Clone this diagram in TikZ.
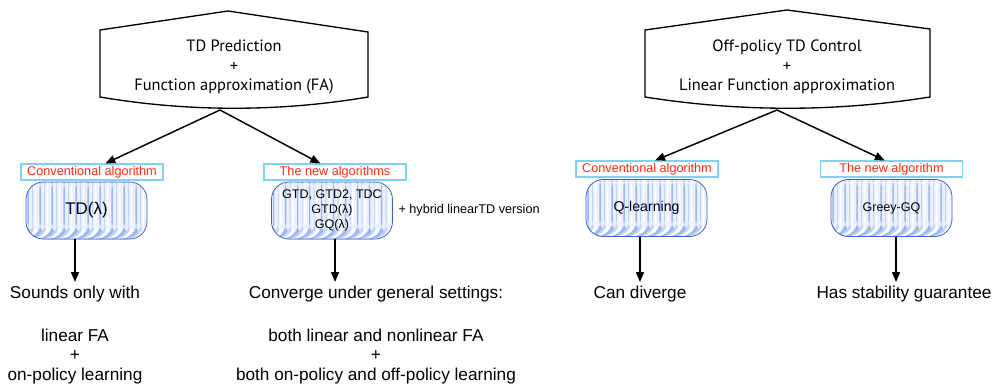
\documentclass[tikz,border=0pt]{standalone}
\usepackage{fontspec}
\setmainfont{Liberation Sans}
\newfontfamily\gillfont{PT Sans}
\usetikzlibrary{positioning,arrows.meta}

\definecolor{boxblue}{RGB}{70,95,200}
\definecolor{stripeblue}{RGB}{155,183,247}
\definecolor{stripelight}{RGB}{236,241,254}
\definecolor{lblue}{RGB}{125,210,250}
\definecolor{lred}{RGB}{255,40,20}

\tikzset{
  topshape/.style={line width=1pt},
  toptext/.style={align=center, inner sep=0pt, font=\gillfont\fontsize{12.3}{14.6}\selectfont},
  redlabel/.style={draw=lblue, fill=white, text=lred, line width=0.8pt, inner sep=0pt,
    minimum width=106.5pt, minimum height=12pt, font=\fontsize{9.5}{11}\selectfont},
  algbox/.style={draw=boxblue, fill=white, line width=0.6pt, rounded corners=13pt,
    minimum width=90.75pt, minimum height=42.75pt, inner sep=0pt, align=center,
    path picture={
      \fill[stripelight] (path picture bounding box.south west) rectangle (path picture bounding box.north east);
      \foreach \k in {0,...,10}{
        \fill[stripeblue] ([xshift=\k*9pt+1pt]path picture bounding box.south west) rectangle ++(1.2pt,50pt);
        \fill[stripeblue!60] ([xshift=\k*9pt+4.5pt]path picture bounding box.south west) rectangle ++(0.8pt,50pt);
        \fill[white] ([xshift=\k*9pt+6.5pt]path picture bounding box.south west) rectangle ++(1.2pt,50pt);
      }
    }},
  result/.style={align=center, inner sep=0pt, anchor=north, font=\fontsize{12.9}{14.5}\selectfont},
  arr/.style={-{Triangle[length=7.5pt,width=6pt]}, line width=1.1pt}
}

\begin{document}
\begin{tikzpicture}[x=0.75pt,y=-0.75pt]
  \useasboundingbox (0,0) rectangle (997,389);

  % left half: prediction
  \draw[topshape] (100,97) -- (100,30) -- (228,11) -- (368,32) -- (368,97)
    .. controls (280,112) and (188,112) .. cycle;
  \node[toptext] (predict) at (234,67) {TD Prediction\\+\\Function approximation (FA)};
  \coordinate (predbot) at (220,110);

  \node[redlabel] (conv1) at (92,172) {Conventional algorithm};
  \node[redlabel] (new1) at (335,172) {The new algorithms};
  \node[algbox, font=\fontsize{12.7}{14}\selectfont] (td) at (86.5,210.5) {TD(λ)};
  \node[algbox, font=\fontsize{9.4}{11.5}\selectfont] (gtd) at (332,210.5) {GTD, GTD2, TDC\\GTD(λ)\\GQ(λ)};
  \node[right=4pt of gtd, inner sep=0pt, font=\fontsize{9.5}{11}\selectfont] (hybrid) {+ hybrid linearTD version};

  \draw[arr] (predbot) -- ([xshift=10pt]conv1.north);
  \draw[arr] (predbot) -- ([xshift=-11pt]new1.north);

  \node[result] (sound) at (75,286) {Sounds only with\\[17.5pt]linear FA\\+\\on-policy learning};
  \node[result] (conv) at (376,286) {Converge under general settings:\\[17.5pt]both linear and nonlinear FA\\+\\both on-policy and off-policy learning};
  \draw[arr] (td.south -| sound.north) -- ([yshift=3pt]sound.north);
  \draw[arr] ([xshift=2.3pt]gtd.south) -- ([xshift=2.3pt,yshift=3pt]gtd.south |- conv.north);

  % right half: control
  \draw[topshape] (645,97) -- (645,30) -- (787,10) -- (930,29) -- (930,97)
    .. controls (835,112) and (740,112) .. cycle;
  \node[toptext] (control) at (787,67) {Off-policy TD Control\\+\\Linear Function approximation};
  \coordinate (ctrlbot) at (777,110);

  \node[redlabel] (conv2) at (647,169) {Conventional algorithm};
  \node[redlabel] (new2) at (891.5,169) {The new algorithm};
  \node[algbox, font=\fontsize{10.6}{12}\selectfont] (qlearn) at (646.5,208) {Q-learning};
  \node[algbox, font=\fontsize{9.4}{11}\selectfont] (greey) at (891.5,208) {Greey-GQ};

  \draw[arr] (ctrlbot) -- ([xshift=6pt]conv2.north);
  \draw[arr] (ctrlbot) -- ([xshift=-5pt]new2.north);

  \node[result] (diverge) at (640,286) {Can diverge};
  \node[result] (stable) at (904,286) {Has stability guarantee};
  \draw[arr] (qlearn.south -| diverge.north) -- ([yshift=3pt]diverge.north);
  \draw[arr] ([xshift=3.4pt]greey.south) -- ([xshift=3.4pt,yshift=3pt]greey.south |- stable.north);
\end{tikzpicture}
\end{document}
